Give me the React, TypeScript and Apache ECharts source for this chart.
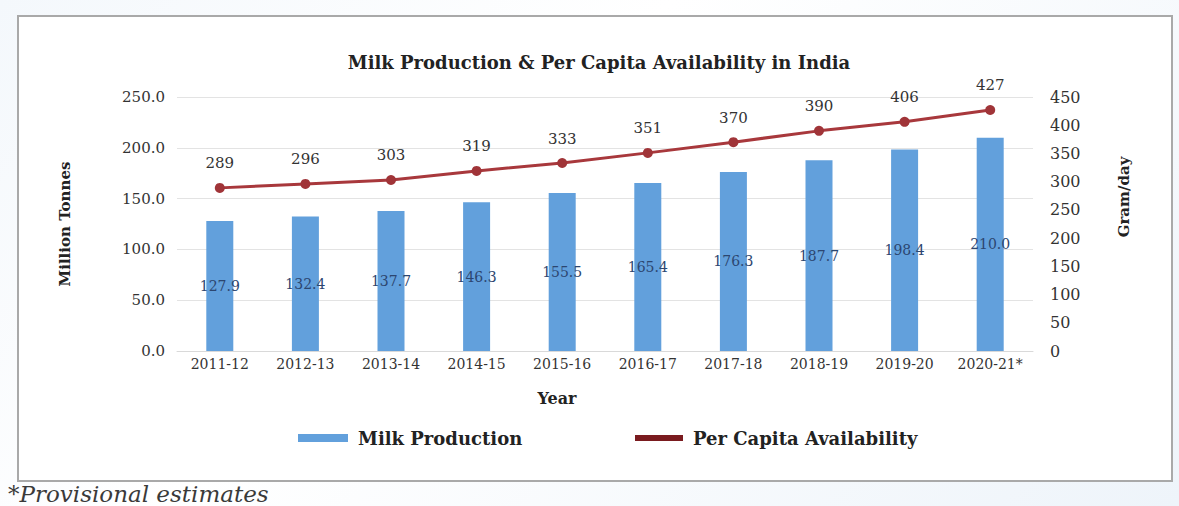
import React, { useEffect, useRef } from "react";
import * as echarts from "echarts";

const categories = ["2011-12", "2012-13", "2013-14", "2014-15", "2015-16", "2016-17", "2017-18", "2018-19", "2019-20", "2020-21*"];
const milkProduction = [127.9, 132.4, 137.7, 146.3, 155.5, 165.4, 176.3, 187.7, 198.4, 210.0];
const perCapita = [289, 296, 303, 319, 333, 351, 370, 390, 406, 427];

const SERIF = "'DejaVu Serif', 'Liberation Serif', serif";

export default function App() {
  const ref = useRef<HTMLDivElement>(null);
  useEffect(() => {
    if (!ref.current) return;
    const chart = echarts.init(ref.current, null, { renderer: "svg" });
    chart.setOption({
      animation: false,
      textStyle: { fontFamily: SERIF },
      graphic: [
        {
          type: "rect",
          z: -10,
          shape: { x: 18, y: 16, width: 1154, height: 465 },
          style: { fill: "#ffffff", stroke: "#a9a9a9", lineWidth: 2 },
        },
        {
          type: "text",
          x: 599,
          y: 62,
          style: {
            text: "Milk Production & Per Capita Availability in India",
            font: `bold 18px ${SERIF}`,
            fill: "#222222",
            textAlign: "center",
            textVerticalAlign: "middle",
          },
        },
        {
          type: "text",
          x: 557,
          y: 398,
          style: {
            text: "Year",
            font: `bold 16px ${SERIF}`,
            fill: "#222222",
            textAlign: "center",
            textVerticalAlign: "middle",
          },
        },
        {
          type: "text",
          x: 1124,
          y: 197,
          rotation: Math.PI / 2,
          style: {
            text: "Gram/day",
            font: `bold 15px ${SERIF}`,
            fill: "#222222",
            textAlign: "center",
            textVerticalAlign: "middle",
          },
        },
        {
          type: "text",
          x: 8,
          y: 494,
          style: {
            text: "*Provisional estimates",
            font: `italic 23px ${SERIF}`,
            fill: "#3a3a3a",
            textAlign: "left",
            textVerticalAlign: "middle",
          },
        },
      ],
      legend: [
        {
          data: ["Milk Production"],
          left: 293,
          top: 424,
          itemWidth: 50,
          itemHeight: 8,
          icon: "rect",
          textStyle: { fontFamily: SERIF, fontSize: 18, fontWeight: "bold", color: "#222", padding: [0, 0, 0, 5] },
        },
        {
          data: ["Per Capita Availability"],
          left: 630,
          top: 424,
          itemWidth: 48,
          itemHeight: 6,
          icon: "rect",
          itemStyle: { color: "#7a1b1f" },
          textStyle: { fontFamily: SERIF, fontSize: 18, fontWeight: "bold", color: "#222", padding: [0, 0, 0, 5] },
        },
      ],
      grid: { left: 177, right: 146, top: 97, bottom: 155 },
      xAxis: {
        type: "category",
        data: categories,
        axisLine: { lineStyle: { color: "#d9d9d9" } },
        axisTick: { show: false },
        axisLabel: { fontFamily: SERIF, fontSize: 14, color: "#333", margin: 6 },
      },
      yAxis: [
        {
          type: "value",
          min: 0,
          max: 250,
          interval: 50,
          name: "Million Tonnes",
          nameLocation: "middle",
          nameRotate: 90,
          nameGap: 105,
          nameTextStyle: { fontFamily: SERIF, fontSize: 15, fontWeight: "bold", color: "#222" },
          axisLine: { show: false },
          axisTick: { show: false },
          splitLine: { lineStyle: { color: "#e3e3e3" } },
          axisLabel: {
            fontFamily: SERIF,
            fontSize: 15,
            color: "#333",
            margin: 12,
            formatter: (v: number) => v.toFixed(1),
          },
        },
        {
          type: "value",
          min: 0,
          max: 450,
          interval: 50,
          axisLine: { show: false },
          axisTick: { show: false },
          splitLine: { show: false },
          axisLabel: { fontFamily: SERIF, fontSize: 16, color: "#333", margin: 17 },
        },
      ],
      series: [
        {
          name: "Milk Production",
          type: "bar",
          data: milkProduction,
          barWidth: 27,
          itemStyle: { color: "#62a0dc" },
          label: {
            show: true,
            position: "inside",
            fontFamily: SERIF,
            fontSize: 14,
            color: "#2c4670",
            formatter: (p: any) => Number(p.value).toFixed(1),
          },
        },
        {
          name: "Per Capita Availability",
          type: "line",
          yAxisIndex: 1,
          data: perCapita,
          symbol: "circle",
          symbolSize: 10,
          lineStyle: { color: "#a8383c", width: 3 },
          itemStyle: { color: "#a03438" },
          label: {
            show: true,
            position: "top",
            distance: 12,
            fontFamily: SERIF,
            fontSize: 15,
            color: "#333",
          },
        },
      ],
    });
    return () => chart.dispose();
  }, []);
  return (
    <div
      style={{
        position: "absolute",
        left: 0,
        top: 0,
        width: 1179,
        height: 506,
        background: "linear-gradient(135deg, #f4f8fc 0%, #ffffff 40%, #eef4fa 100%)",
      }}
    >
      <div ref={ref} style={{ width: 1179, height: 506 }} />
    </div>
  );
}
